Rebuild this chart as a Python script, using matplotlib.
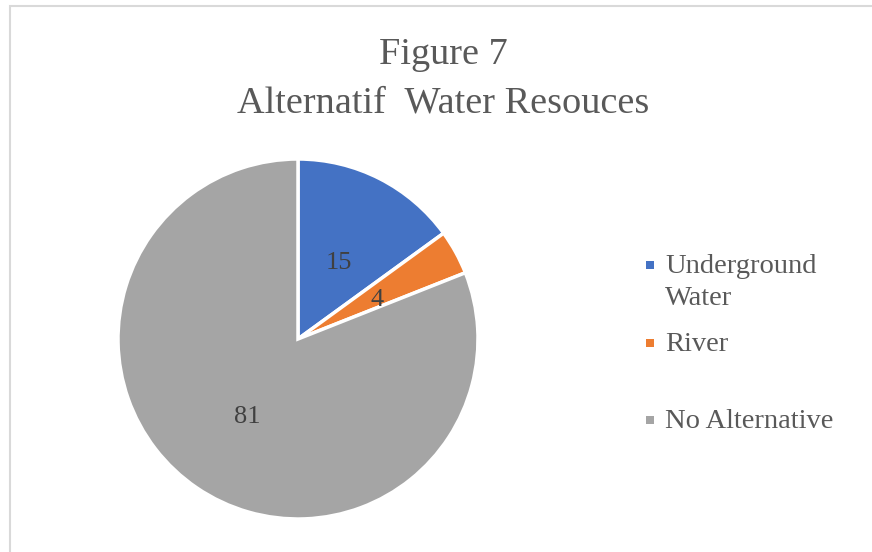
import matplotlib
matplotlib.use("Agg")
import matplotlib.pyplot as plt
from matplotlib.patches import Rectangle
import matplotlib.transforms as mtransforms

categories = ["Underground\nWater", "River", "No Alternative"]
values = [15, 4, 81]
colors = ["#4472C4", "#ED7D31", "#A5A5A5"]
title_lines = ["Figure 7", "Alternatif  Water Resouces"]

plt.rcParams["font.family"] = ["Liberation Serif", "DejaVu Serif"]

W, H = 872, 552
fig = plt.figure(figsize=(W / 100, H / 100), dpi=100)

# border
fig.add_artist(Rectangle((9.5 / W, -0.1), 1.2, (H - 5.5) / H + 0.1,
                         transform=fig.transFigure, fill=False,
                         edgecolor="#D9D9D9", linewidth=1.5))

ax = fig.add_axes([118 / W, (H - 519) / H, 360 / W, 360 / H])
wedges, texts, autotexts = ax.pie(
    values, colors=colors, startangle=90, counterclock=False,
    autopct=lambda p: f"{p:.0f}", pctdistance=0.5,
    wedgeprops=dict(edgecolor="white", linewidth=2.5),
    textprops=dict(fontsize=19, color="#404040"))
shift = mtransforms.ScaledTranslation(0, -4 / 100, fig.dpi_scale_trans)
for t in autotexts:
    t.set_transform(t.get_transform() + shift)
ax.set_xlim(-1, 1)
ax.set_ylim(-1, 1)
ax.set_aspect("equal")
ax.axis("off")

fig.text(443 / W, 1 - 55 / H, title_lines[0], ha="center", va="center",
         fontsize=27.5, color="#595959")
fig.text(443 / W, 1 - 103 / H, title_lines[1], ha="center", va="center",
         fontsize=27.5, color="#595959")

# legend
leg_y = [265, 343, 420]
for c, lab, y in zip(colors, categories, leg_y):
    fig.add_artist(Rectangle((646 / W, 1 - (y + 4) / H), 8 / W, 8 / H,
                             transform=fig.transFigure, facecolor=c,
                             edgecolor="none"))
    fig.text(665 / W, 1 - (y - 11) / H, lab, ha="left", va="top",
             fontsize=20.5, color="#595959", linespacing=1.35)

fig.savefig("out.png", dpi=100, facecolor="white")
